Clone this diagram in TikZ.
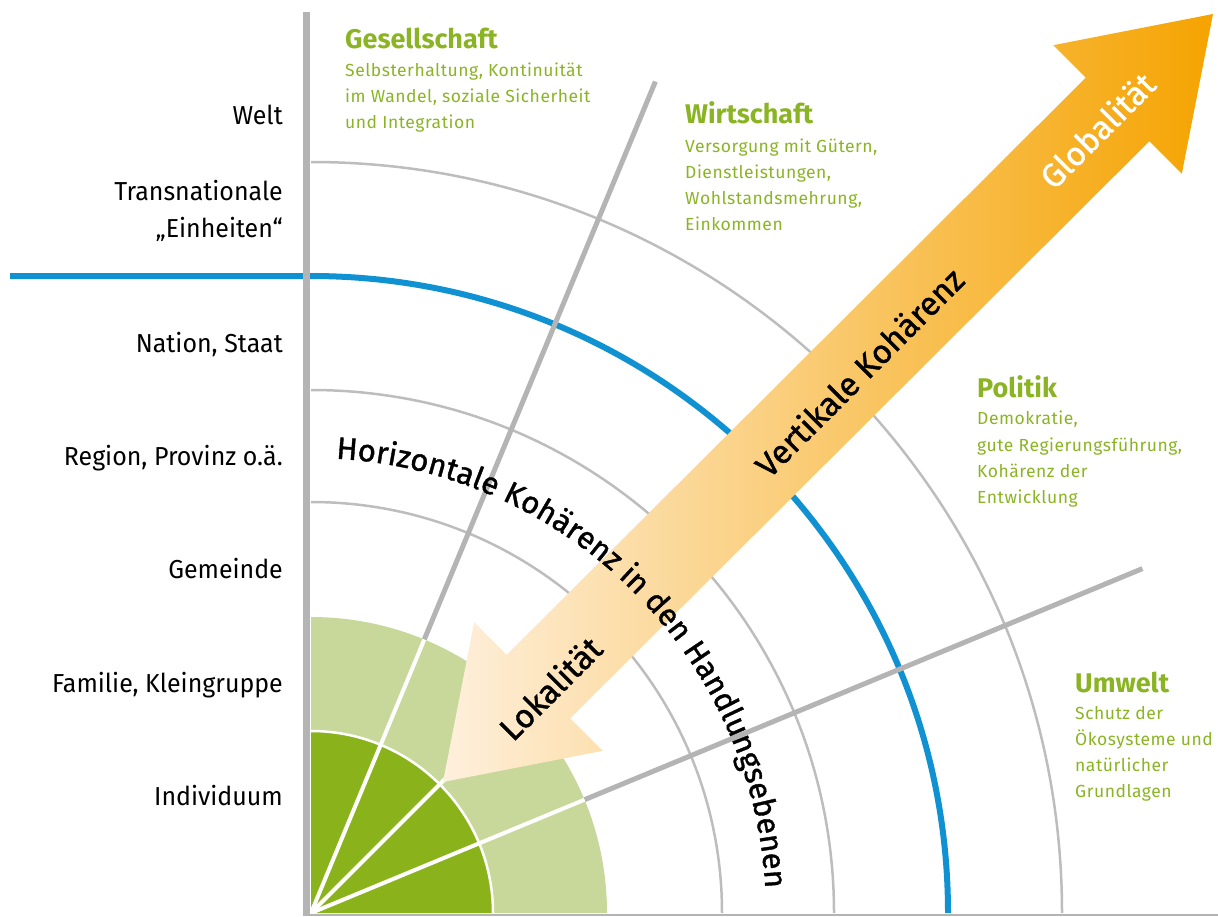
\documentclass[tikz,border=0pt]{standalone}
\usepackage{fontspec}
\setmainfont{Fira Sans}
\newfontfamily\medfont[FakeBold=1.2]{Fira Sans}
\newfontfamily\dscfont[LetterSpace=3]{Fira Sans}
\newfontfamily\lvlfont[FakeStretch=0.96]{Fira Sans}
\usetikzlibrary{decorations.text}
\definecolor{dgreen}{HTML}{8AB31B}
\definecolor{lgreen}{HTML}{C8D89A}
\definecolor{tgreen}{HTML}{8AB423}
\definecolor{axgray}{HTML}{B4B4B4}
\definecolor{arcgray}{HTML}{BDBDBD}
\definecolor{lblue}{HTML}{0F91D2}
\definecolor{peach}{HTML}{FEF0DD}
\definecolor{arrorange}{HTML}{F5A300}
\tikzset{
  level/.style={anchor=base east, inner sep=0pt, font=\lvlfont\fontsize{26}{30}\selectfont},
  ttl/.style={anchor=base west, inner sep=0pt, text=tgreen, font=\fontsize{27}{30}\selectfont\bfseries},
  dsc/.style={anchor=base west, inner sep=0pt, text=tgreen, font=\dscfont\fontsize{17.5}{20}\selectfont},
  arctxt/.style={rotate=45, inner sep=0pt, font=\medfont\fontsize{33}{35}\selectfont},
  grayarc/.style={arcgray, line width=2.5pt},
  spoke/.style={axgray, line width=5pt},
  wspoke/.style={white, line width=4pt}
}
\begin{document}
\begin{tikzpicture}[x=1pt,y=-1pt]
\useasboundingbox (0,0) rectangle (1218,916);
\coordinate (O) at (311,913);
% gray arcs
\foreach \r in {411,523,751}
  \draw[grayarc] (O) ++(0,-\r) arc[start angle=-90,end angle=0,radius=\r];
% blue line + arc
\draw[lblue, line width=6pt] (10,276) -- (311,276) arc[start angle=-90,end angle=0,radius=637];
% gray spokes
\draw[spoke] (O) ++(-67.5:296) -- ++(-67.5:604);
\draw[spoke] (O) ++(-22.5:296) -- ++(-22.5:604);
% green sectors
\fill[lgreen] (O) -- ++(0,-296) arc[start angle=-90,end angle=0,radius=296] -- cycle;
\fill[dgreen] (O) -- ++(0,-182) arc[start angle=-90,end angle=0,radius=182] -- cycle;
\draw[white, line width=2.5pt] (O) ++(0,-182) arc[start angle=-90,end angle=0,radius=182];
\foreach \a in {-22.5,-45,-67.5}
  \draw[wspoke] (O) -- ++(\a:296);
% axes
\draw[axgray, line width=7pt] (306.5,12) -- (306.5,916);
\draw[axgray, line width=2pt] (303,915) -- (1218,915);
% arrow
\shade[left color=peach, right color=arrorange]
  (443,782) -- (474.2,622.2) -- (506.7,654.7) -- (1085.7,77.7) -- (1053.2,45.2)
  -- (1213,14) -- (1181.8,173.8) -- (1149.3,141.3) -- (570.3,718.3) -- (602.8,750.8) -- cycle;
\node[arctxt] (vk) at (859,372) {Vertikale Kohärenz};
\node[arctxt, text=white] (glob) at (1097,130) {Globalität};
\node[arctxt] (lok) at (550,688) {Lokalität};
% horizontal coherence along arc
\path[decorate, decoration={text along path, text align=center,
  text={|\medfont\fontsize{31}{33}\selectfont|Horizontale Kohärenz in den Handlungsebenen}}]
  (O) ++(-88:455) arc[start angle=-88,end angle=-2,radius=455];
% level labels
\node[level] (welt) at (283,124) {Welt};
\node[level] (trans) at (283,200) {Transnationale};
\node[level] (einh) at (283,237) {„Einheiten“};
\node[level] (nat) at (283,352) {Nation, Staat};
\node[level] (reg) at (283,465) {Region, Provinz o.ä.};
\node[level] (gem) at (283,578) {Gemeinde};
\node[level] (fam) at (283,692) {Familie, Kleingruppe};
\node[level] (ind) at (283,805) {Individuum};
% Gesellschaft
\node[ttl] (ges) at (345,48) {Gesellschaft};
\node[dsc] (ges1) at (345,76) {Selbsterhaltung, Kontinuität};
\node[dsc] (ges2) at (345,102) {im Wandel, soziale Sicherheit};
\node[dsc] (ges3) at (345,128) {und Integration};
% Wirtschaft
\node[ttl] (wir) at (685,123) {Wirtschaft};
\node[dsc] (wir1) at (685,152) {Versorgung mit Gütern,};
\node[dsc] (wir2) at (685,178) {Dienstleistungen,};
\node[dsc] (wir3) at (685,204) {Wohlstandsmehrung,};
\node[dsc] (wir4) at (685,230) {Einkommen};
% Politik
\node[ttl] (pol) at (977,397) {Politik};
\node[dsc] (pol1) at (977,424) {Demokratie,};
\node[dsc] (pol2) at (977,451) {gute Regierungsführung,};
\node[dsc] (pol3) at (977,477) {Kohärenz der};
\node[dsc] (pol4) at (977,503) {Entwicklung};
% Umwelt
\node[ttl] (umw) at (1075,692) {Umwelt};
\node[dsc] (umw1) at (1075,719) {Schutz der};
\node[dsc] (umw2) at (1075,745) {Ökosysteme und};
\node[dsc] (umw3) at (1075,771) {natürlicher};
\node[dsc] (umw4) at (1075,797) {Grundlagen};
\end{tikzpicture}
\end{document}
